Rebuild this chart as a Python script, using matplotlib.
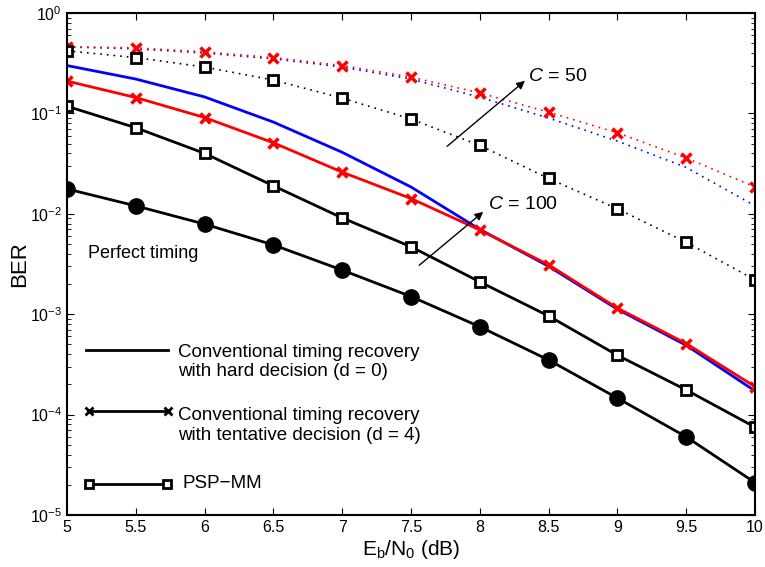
import matplotlib

matplotlib.use("Agg")
import matplotlib.pyplot as plt
import numpy as np

plt.rcParams["font.family"] = ["Liberation Sans", "DejaVu Sans"]
plt.rcParams["mathtext.fontset"] = "custom"
plt.rcParams["mathtext.rm"] = "Liberation Sans"
plt.rcParams["mathtext.it"] = "Liberation Sans:italic"

ebn0 = [5, 5.5, 6, 6.5, 7, 7.5, 8, 8.5, 9, 9.5, 10]

# C = 50 (dotted)
hard_c50 = [4.6e-1, 4.4e-1, 4.0e-1, 3.5e-1, 2.9e-1, 2.2e-1, 1.45e-1, 9.0e-2, 5.3e-2, 2.9e-2, 1.2e-2]
tent_c50 = [4.6e-1, 4.5e-1, 4.1e-1, 3.6e-1, 3.0e-1, 2.3e-1, 1.6e-1, 1.03e-1, 6.4e-2, 3.6e-2, 1.85e-2]
psp_c50 = [4.2e-1, 3.6e-1, 2.9e-1, 2.15e-1, 1.42e-1, 8.8e-2, 4.8e-2, 2.25e-2, 1.12e-2, 5.2e-3, 2.2e-3]

# C = 100 (solid)
hard_c100 = [3.0e-1, 2.2e-1, 1.46e-1, 8.2e-2, 4.1e-2, 1.85e-2, 7.0e-3, 3.0e-3, 1.12e-3, 4.9e-4, 1.72e-4]
tent_c100 = [2.1e-1, 1.44e-1, 9.1e-2, 5.1e-2, 2.6e-2, 1.42e-2, 6.9e-3, 3.1e-3, 1.15e-3, 5.1e-4, 1.9e-4]
psp_c100 = [1.18e-1, 7.2e-2, 4.0e-2, 1.9e-2, 9.1e-3, 4.7e-3, 2.1e-3, 9.6e-4, 3.9e-4, 1.76e-4, 7.5e-5]

perfect = [1.77e-2, 1.2e-2, 7.9e-3, 4.9e-3, 2.75e-3, 1.5e-3, 7.5e-4, 3.5e-4, 1.46e-4, 6.0e-5, 2.1e-5]

fig = plt.figure(figsize=(7.65, 5.67), dpi=100)
ax = fig.add_axes([0.0876, 0.0917, 0.8994, 0.8853])

dot = (0, (1, 3))
ax.semilogy(ebn0, hard_c50, color="blue", linestyle=dot, linewidth=1.2)
ax.semilogy(ebn0, tent_c50, color="red", linestyle=dot, linewidth=1.2,
            marker="x", markersize=7, markeredgewidth=2.5)
ax.semilogy(ebn0, psp_c50, color="black", linestyle=dot, linewidth=1.2,
            marker="s", markersize=7.5, markerfacecolor="white", markeredgewidth=2)

ax.semilogy(ebn0, hard_c100, color="blue", linewidth=2)
ax.semilogy(ebn0, tent_c100, color="red", linewidth=2,
            marker="x", markersize=7, markeredgewidth=2.5)
ax.semilogy(ebn0, psp_c100, color="black", linewidth=2,
            marker="s", markersize=7.5, markerfacecolor="white", markeredgewidth=2)
ax.semilogy(ebn0, perfect, color="black", linewidth=2,
            marker="o", markersize=11)

# hand-drawn legend (as in the original figure)
ax.plot([5.138, 5.734], [4.4e-4, 4.4e-4], color="black", linewidth=2)
ax.plot([5.16, 5.734], [1.09e-4, 1.09e-4], color="black", linewidth=2,
        marker="x", markersize=6, markeredgewidth=2)
ax.plot([5.16, 5.725], [2.04e-5, 2.04e-5], color="black", linewidth=2,
        marker="s", markersize=6, markerfacecolor="white", markeredgewidth=2)
ax.text(5.807, 3.34e-4, "Conventional timing recovery\nwith hard decision (d = 0)",
        fontsize=13.5, va="center", ha="left", linespacing=1.2)
ax.text(5.807, 7.8e-5, "Conventional timing recovery\nwith tentative decision (d = 4)",
        fontsize=13.5, va="center", ha="left", linespacing=1.2)
ax.text(5.84, 2.04e-5, "PSP\u2212MM", fontsize=13.5, va="center", ha="left")

ax.text(5.153, 4.07e-3, "Perfect timing", fontsize=13, va="center", ha="left")

ax.annotate("", xy=(8.343, 0.22), xytext=(7.747, 0.0452),
            arrowprops=dict(arrowstyle="-|>", color="black", lw=1, mutation_scale=12))
ax.text(8.35, 0.235, "$\\mathit{C}$ = 50", fontsize=14, va="center", ha="left")
ax.annotate("", xy=(8.04, 0.0109), xytext=(7.544, 2.95e-3),
            arrowprops=dict(arrowstyle="-|>", color="black", lw=1, mutation_scale=12))
ax.text(8.06, 0.0125, "$\\mathit{C}$ = 100", fontsize=14, va="center", ha="left")

ax.set_xlim(5, 10)
ax.set_ylim(1e-5, 1)
ax.set_xticks(ebn0)
ax.set_xticklabels(["5", "5.5", "6", "6.5", "7", "7.5", "8", "8.5", "9", "9.5", "10"])
ax.tick_params(which="both", direction="in", top=True, right=True, labelsize=11.5)
ax.tick_params(which="major", length=5)
ax.tick_params(which="minor", length=3)
for s in ax.spines.values():
    s.set_linewidth(1.5)

ax.set_xlabel("E$_\\mathrm{b}$/N$_\\mathrm{0}$ (dB)", fontsize=15, labelpad=2)
ax.set_ylabel("BER", fontsize=16, labelpad=0)

fig.savefig("out.png", dpi=100)
